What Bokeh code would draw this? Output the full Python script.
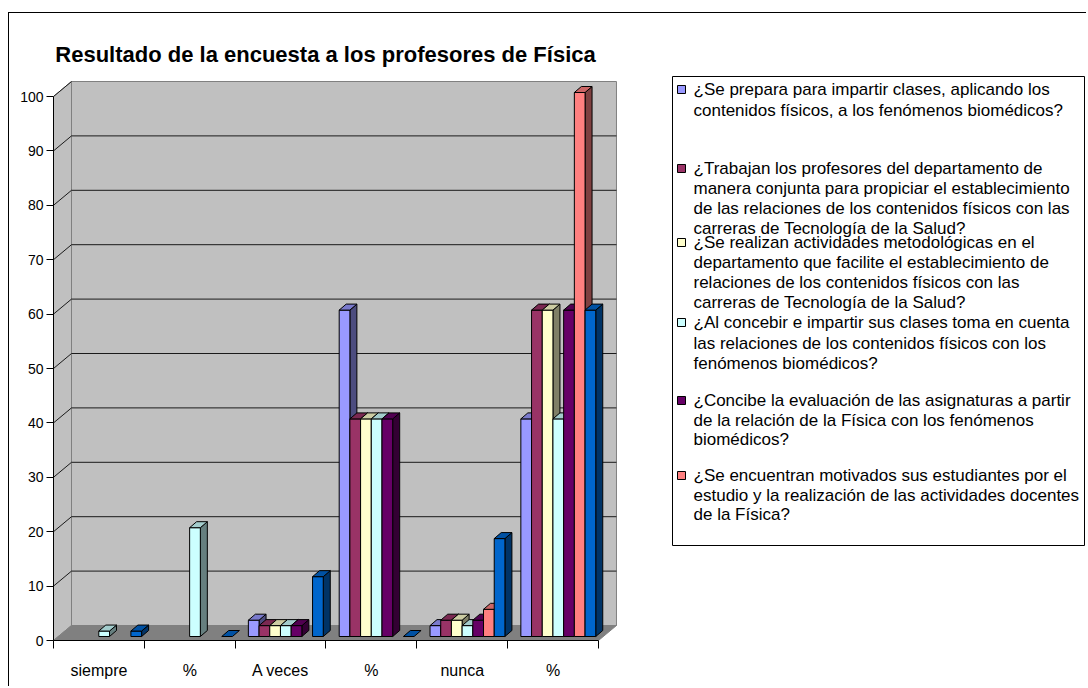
from bokeh.plotting import figure
from bokeh.models import ColumnDataSource, Range1d, LinearAxis, FixedTicker
from bokeh.core.properties import value
from bokeh.embed import file_html
from bokeh.resources import INLINE

# ---------------- data ----------------
categories = ["siempre", "%", "A veces", "%", "nunca", "%"]

s_prepara = [None, None, 3, 60, 2, 40]
s_trabajan = [None, None, 2, 40, 3, 60]
s_realizan = [None, None, 2, 40, 3, 60]
s_concebir = [1, 20, 2, 40, 2, 40]
s_concibe = [None, None, 2, 40, 3, 60]
s_motivados = [None, None, None, None, 5, 100]
s_total = [1, 0, 11, 0, 18, 60]

series = [s_prepara, s_trabajan, s_realizan, s_concebir, s_concibe, s_motivados, s_total]
colors = ["#9999FF", "#993366", "#FFFFCC", "#CCFFFF", "#660066", "#FF8080", "#0066CC"]

legend_lines = [
    ["¿Se prepara para impartir clases, aplicando los",
     "contenidos físicos,  a los fenómenos biomédicos?"],
    ["¿Trabajan los profesores del departamento de",
     "manera conjunta para propiciar el establecimiento",
     "de las relaciones de los contenidos físicos con las",
     "carreras de Tecnología de la Salud?"],
    ["¿Se realizan actividades metodológicas en el",
     "departamento que facilite el establecimiento de",
     "relaciones de los contenidos físicos con las",
     "carreras de Tecnología de la Salud?"],
    ["¿Al concebir e impartir sus clases toma en cuenta",
     "las relaciones de los contenidos físicos con  los",
     "fenómenos biomédicos?"],
    ["¿Concibe la evaluación de las asignaturas  a partir",
     "de la relación de la Física con los fenómenos",
     "biomédicos?"],
    ["¿Se encuentran motivados sus estudiantes por el",
     "estudio y la realización de las actividades docentes",
     "de la Física?"],
]
title_text = "Resultado de la encuesta a los profesores de Física"
y_ticks = list(range(0, 101, 10))

# ---------------- geometry (styling) ----------------
PXX = 90.83   # pixels per category
PXY = 5.44    # pixels per value unit
def px(xp):
    return (xp - 53) / PXX
def py(yp):
    return (640 - yp) / PXY

W, H = 1078, 674
MBL = 44
MBB = H - 627
ncat = len(categories)
WDX, WDY = 18 / PXX, 15 / PXY      # wall depth
BW = 10.7 / PXX                     # bar width
GOFF = 13.2 / PXX                   # group offset
BASE = 4 / PXY                      # bar base above floor front
BDX, BDY = 7 / PXX, 6 / PXY         # bar depth

def shade(hexc, f):
    r, g, b = int(hexc[1:3], 16), int(hexc[3:5], 16), int(hexc[5:7], 16)
    return "#%02x%02x%02x" % (int(r * f), int(g * f), int(b * f))

p = figure(width=W, height=H, output_backend="svg", toolbar_location=None,
           x_range=Range1d(0, (W - MBL) / PXX), y_range=Range1d(0, 627 / PXY),
           x_axis_location=None, y_axis_location=None,
           min_border_left=MBL, min_border_right=0, min_border_top=0, min_border_bottom=MBB)
p.grid.visible = False
p.outline_line_color = None
p.background_fill_color = "white"
p.border_fill_color = "white"
p.styles = {"margin-left": "8px", "margin-top": "12px",
            "border-left": "1px solid black", "border-top": "1px solid black"}

FONT = value("Liberation Sans")

# walls and floor
xr = ncat
p.patch([0, WDX, WDX, 0], [0, WDY, 100 + WDY, 100], fill_color="#C0C0C0", line_color="#808080")
p.patch([WDX, xr + WDX, xr + WDX, WDX], [WDY, WDY, 100 + WDY, 100 + WDY],
        fill_color="#C0C0C0", line_color="#808080")
p.patch([0, xr, xr + WDX, WDX], [0, 0, WDY, WDY], fill_color="#808080", line_color="#808080")
gx, gy = [], []
for v in y_ticks[1:-1]:
    gx.append([WDX, xr + WDX]); gy.append([v + WDY, v + WDY])
for v in y_ticks[1:]:
    gx.append([0, WDX]); gy.append([v, v + WDY])
p.multi_line(gx, gy, line_color="#1a1a1a", line_width=1)

# bars (3-D look)
xs, ys, fc = [], [], []
for c in range(ncat):
    for i, s in enumerate(series):
        v = s[c]
        if v is None:
            continue
        x0 = c + GOFF + i * BW
        x1 = x0 + BW
        b = BASE
        t = BASE + v
        col = colors[i]
        if v > 0:
            xs.append([x1, x1 + BDX, x1 + BDX, x1]); ys.append([b, b + BDY, t + BDY, t]); fc.append(shade(col, 0.5))
            xs.append([x0, x1, x1, x0]); ys.append([b, b, t, t]); fc.append(col)
        xs.append([x0, x1, x1 + BDX, x0 + BDX]); ys.append([t, t, t + BDY, t + BDY]); fc.append(shade(col, 0.8))
src = ColumnDataSource(dict(xs=xs, ys=ys, fc=fc))
p.patches("xs", "ys", source=src, fill_color="fc", line_color="black", line_width=1)

# axes
yax = LinearAxis(ticker=FixedTicker(ticks=y_ticks), bounds=(0, 100))
yax.axis_line_color = "black"
yax.major_tick_line_color = "black"
yax.major_tick_out = 7
yax.major_tick_in = 0
yax.minor_tick_line_color = None
yax.major_label_standoff = 3
yax.major_label_text_font = "Liberation Sans"
yax.major_label_text_font_size = "14px"
yax.major_label_text_color = "black"
p.add_layout(yax, "left")

centers = [c + 0.5 for c in range(ncat)]
xax = LinearAxis(ticker=FixedTicker(ticks=centers, minor_ticks=list(range(ncat + 1))), bounds=(0, ncat))
xax.axis_line_color = "black"
xax.major_tick_line_color = None
xax.major_tick_out = 0
xax.major_tick_in = 0
xax.minor_tick_line_color = "black"
xax.minor_tick_out = 8
xax.minor_tick_in = 0
xax.major_label_standoff = 13
xax.major_label_overrides = {cx: lab for cx, lab in zip(centers, categories)}
xax.major_label_text_font = "Liberation Sans"
xax.major_label_text_font_size = "16px"
xax.major_label_text_color = "black"
p.add_layout(xax, "below")

# title
p.text(x=[px(325)], y=[py(54)], text=[title_text], text_font=FONT, text_font_size="22px",
       text_font_style="bold", text_align="center", text_baseline="middle", text_color="black")

# legend
p.quad(left=[px(672)], right=[px(1084)], top=[py(76)], bottom=[py(545)],
       fill_color="white", line_color="black", line_width=1)
line_pos = [[89, 110], [168, 188, 208, 228], [242, 262, 282, 302],
            [322, 343, 363], [400, 420, 439], [475, 495, 514]]
lx, ly, lt = [], [], []
mk_l, mk_r, mk_t, mk_b, mk_c = [], [], [], [], []
for k, lines in enumerate(legend_lines):
    for j, ln in enumerate(lines):
        lx.append(px(693)); ly.append(py(line_pos[k][j])); lt.append(ln)
    yc = line_pos[k][0]
    mk_l.append(px(677)); mk_r.append(px(685)); mk_t.append(py(yc - 4)); mk_b.append(py(yc + 4))
    mk_c.append(colors[k])
p.quad(left=mk_l, right=mk_r, top=mk_t, bottom=mk_b, fill_color=mk_c, line_color="black", line_width=1)
p.text(x=lx, y=ly, text=lt, text_font=FONT, text_font_size="17px", text_align="left",
       text_baseline="middle", text_color="black")

open("out.html", "w").write(file_html(p, INLINE))
